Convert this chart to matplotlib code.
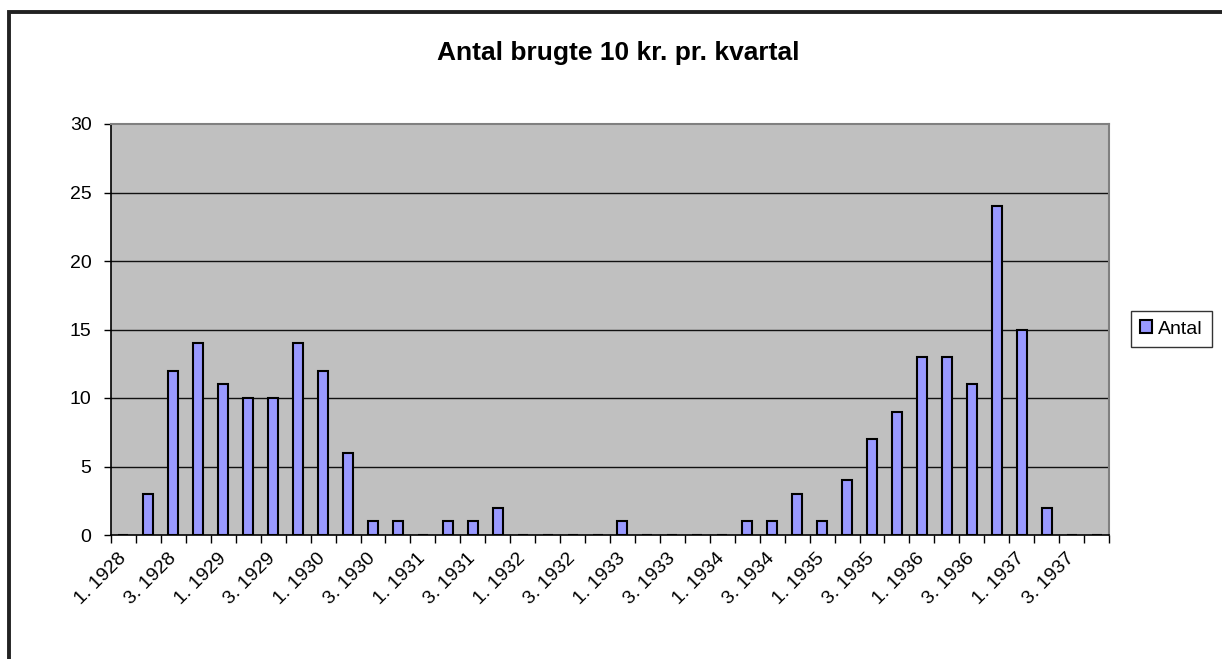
import matplotlib
matplotlib.use("Agg")
import matplotlib.pyplot as plt
from matplotlib.patches import Rectangle
import numpy as np

plt.rcParams['font.family'] = ['Liberation Sans', 'DejaVu Sans']

years = list(range(1928, 1938))
quarters = [f"{q}. {y}" for y in years for q in (1, 2, 3, 4)]
antal = [0, 3, 12, 14,
         11, 10, 10, 14,
         12, 6, 1, 1,
         0, 1, 1, 2,
         0, 0, 0, 0,
         1, 0, 0, 0,
         0, 1, 1, 3,
         1, 4, 7, 9,
         13, 13, 11, 24,
         15, 2, 0, 0]
title = "Antal brugte 10 kr. pr. kvartal"
series_name = "Antal"

W, H = 1222, 659
fig = plt.figure(figsize=(W / 100, H / 100), dpi=100)
ax = fig.add_axes([111 / W, 1 - 535 / H, (1109 - 111) / W, (535 - 124) / H])
ax.set_facecolor('#C0C0C0')

x = np.arange(len(quarters))
ax.bar(x, antal, width=0.4, color='#9999FF', edgecolor='black', linewidth=1.5,
       label=series_name, zorder=3)

ax.set_xlim(-0.5, len(quarters) - 0.5)
ax.set_ylim(0, 30)
ax.set_yticks(range(0, 31, 5))
for yv in range(5, 30, 5):
    ax.axhline(yv, color='#111111', linewidth=1.0, zorder=1)

ax.set_xticks(x[::2])
ax.set_xticklabels(quarters[::2], rotation=45, ha='right', va='center',
                   rotation_mode='anchor', fontsize=14)
ax.set_xticks(np.arange(-0.5, len(quarters), 1), minor=True)
ax.tick_params(axis='x', which='major', length=0, pad=15)
ax.tick_params(axis='x', which='minor', length=6, width=1.0, color='black', direction='out')
ax.tick_params(axis='y', length=5, width=1.0, direction='out', labelsize=14, pad=9)

for s in ['top', 'right']:
    ax.spines[s].set_color('#808080')
    ax.spines[s].set_linewidth(1.5)
for s in ['left', 'bottom']:
    ax.spines[s].set_color('black')
    ax.spines[s].set_linewidth(1.2)

fig.text(618 / W, 1 - 53 / H, title, ha='center', va='center',
         fontsize=19, fontweight='bold')

leg = fig.legend(loc='center', bbox_to_anchor=(1171.5 / W, 1 - 329 / H),
                 fontsize=14, frameon=True, fancybox=False, edgecolor='black',
                 handlelength=0.6, handleheight=0.6, handletextpad=0.3,
                 borderpad=0.5, borderaxespad=0)
leg.get_frame().set_linewidth(1.0)
for h in leg.legend_handles:
    h.set_linewidth(1.5)

frame = Rectangle((9 / W, -0.2), 1.2, (1 - 12 / H) + 0.2, transform=fig.transFigure,
                  fill=False, edgecolor='#222222', linewidth=2.8, clip_on=False)
fig.patches.append(frame)

fig.savefig('out.png', dpi=100)
